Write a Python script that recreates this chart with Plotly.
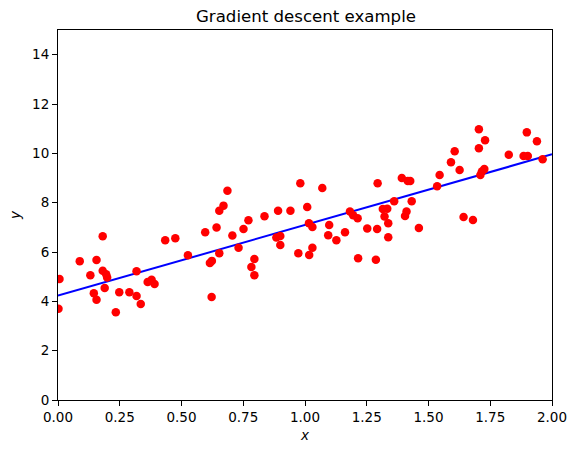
import plotly.graph_objects as go

# Scatter points
x_vals = [0.006, 0.002, 0.088, 0.131, 0.156, 0.145, 0.156, 0.181, 0.181, 0.195,
          0.199, 0.189, 0.234, 0.248, 0.289, 0.318, 0.318, 0.335, 0.363, 0.379,
          0.391, 0.434, 0.475, 0.526, 0.596, 0.615, 0.623, 0.622, 0.642, 0.653,
          0.653, 0.670, 0.686, 0.706, 0.731, 0.751, 0.771, 0.795, 0.783, 0.795,
          0.836, 0.891, 0.941, 0.884, 0.900, 0.900, 0.981, 0.973, 1.009, 1.016,
          1.030, 1.030, 1.017, 1.070, 1.098, 1.094, 1.127, 1.162, 1.182, 1.195,
          1.213, 1.215, 1.252, 1.287, 1.294, 1.292, 1.337, 1.337, 1.322, 1.315,
          1.333, 1.361, 1.405, 1.411, 1.392, 1.416, 1.426, 1.432, 1.461, 1.535,
          1.545, 1.591, 1.606, 1.626, 1.642, 1.680, 1.704, 1.729, 1.704, 1.710,
          1.716, 1.726, 1.825, 1.885, 1.902, 1.898, 1.939, 1.962]
y_vals = [4.91, 3.70, 5.63, 5.06, 5.68, 4.33, 4.06, 6.64, 5.24, 5.10,
          4.97, 4.54, 3.56, 4.37, 4.37, 5.22, 4.22, 3.89, 4.78, 4.87,
          4.70, 6.48, 6.56, 5.87, 6.80, 5.55, 5.64, 4.18, 6.99, 7.67,
          5.95, 7.88, 8.48, 6.67, 6.17, 6.93, 7.29, 5.72, 5.39, 5.06,
          7.45, 7.67, 7.67, 6.59, 6.65, 6.28, 8.79, 5.95, 7.82, 7.17,
          7.01, 6.17, 5.88, 8.59, 7.09, 6.68, 6.48, 6.80, 7.64, 7.49,
          7.37, 5.75, 6.95, 5.69, 8.79, 6.93, 6.60, 7.17, 7.44, 7.74,
          7.75, 8.06, 7.46, 7.64, 9.00, 8.88, 8.88, 8.06, 6.97, 8.67,
          9.12, 9.64, 10.08, 9.32, 7.42, 7.30, 10.98, 10.53, 10.21, 9.12,
          9.26, 9.36, 9.94, 9.89, 9.89, 10.85, 10.49, 9.76]

# Fitted line endpoints
line_x = [0, 2]
line_y = [4.23, 9.96]

x_ticks = [0, 0.25, 0.5, 0.75, 1.0, 1.25, 1.5, 1.75, 2.0]
y_ticks = [0, 2, 4, 6, 8, 10, 12, 14]

fig = go.Figure()

fig.add_trace(
    go.Scatter(
        x=line_x,
        y=line_y,
        mode='lines',
        line=dict(color='#0000ff', width=2),
        showlegend=False
    )
)

fig.add_trace(
    go.Scatter(
        x=x_vals,
        y=y_vals,
        mode='markers',
        marker=dict(color='#ff0000', size=8.5, line=dict(width=0)),
        showlegend=False,
        cliponaxis=True
    )
)

axis_style = dict(
    showline=True,
    mirror=True,
    linecolor='black',
    linewidth=1,
    ticks='outside',
    ticklen=5,
    tickwidth=1,
    tickcolor='black',
    showgrid=False,
    zeroline=False,
    tickfont=dict(family='DejaVu Sans', size=13.5, color='black'),
)

fig.update_layout(
    width=579,
    height=453,
    margin=dict(l=58, r=25, t=30, b=53),
    plot_bgcolor='white',
    paper_bgcolor='white',
    title=dict(
        text='Gradient descent example',
        x=(58 + 554) / 2 / 579,
        xanchor='center',
        y=1 - 16 / 453,
        yanchor='middle',
        font=dict(family='DejaVu Sans', size=16.6, color='black')
    ),
    xaxis=dict(
        range=[0, 2],
        tickvals=x_ticks,
        ticktext=[f'{v:.2f}' for v in x_ticks],
        title=dict(text='<i>x</i>', font=dict(family='DejaVu Sans', size=13.5, color='black'), standoff=6),
        **axis_style
    ),
    yaxis=dict(
        range=[0, 15],
        tickvals=y_ticks,
        ticktext=[str(v) for v in y_ticks],
        title=dict(text='<i>y</i>', font=dict(family='DejaVu Sans', size=13.5, color='black'), standoff=8),
        **axis_style
    ),
)

# drop the default page margin so the figure sits at the window origin
fig.write_html(
    "out.html",
    config={'displayModeBar': False},
    post_script="document.body.style.margin='0';"
)
